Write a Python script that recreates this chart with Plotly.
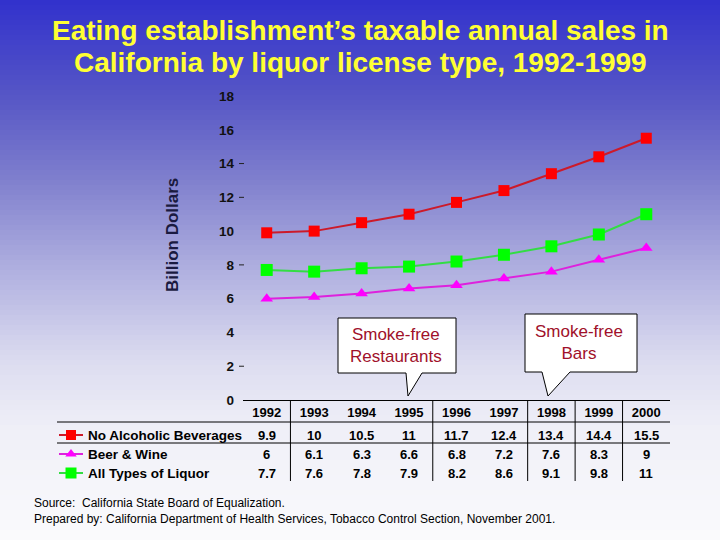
import numpy as np
import plotly.graph_objects as go

years = ["1992", "1993", "1994", "1995", "1996", "1997", "1998", "1999", "2000"]
no_alcohol = [9.9, 10, 10.5, 11, 11.7, 12.4, 13.4, 14.4, 15.5]
beer_wine = [6, 6.1, 6.3, 6.6, 6.8, 7.2, 7.6, 8.3, 9]
all_liquor = [7.7, 7.6, 7.8, 7.9, 8.2, 8.6, 9.1, 9.8, 11]

names = ["No Alcoholic Beverages", "Beer & Wine", "All Types of Liquor"]
series = [no_alcohol, beer_wine, all_liquor]
line_cols = ["#cc1a2a", "#dd22dd", "#33dd44"]
mark_cols = ["#ff0000", "#ff00ff", "#00ff00"]
symbols = ["square", "triangle-up", "square"]
sizes = [11, 11, 12]
dash_ticks = [14, 12, 8, 2]  # stray tick dashes seen on the original

W, H = 720, 540
FONT = "Arial, Liberation Sans, sans-serif"

def py(p):  # pixel row -> paper y (margins are zero)
    return 1 - p / H

fig = go.Figure()

# data lines
for name, vals, lc, mc, sym, sz in zip(names, series, line_cols, mark_cols, symbols, sizes):
    fig.add_trace(go.Scatter(x=years, y=vals, mode="lines+markers", name=name,
                             line=dict(color=lc, width=2),
                             marker=dict(color=mc, symbol=sym, size=sz, line=dict(width=0)),
                             showlegend=False))

# legend samples drawn on a pixel overlay axis
row_y = [435, 454, 473]
for i in range(3):
    fig.add_trace(go.Scatter(x=[59, 71, 83], y=[row_y[i]] * 3, mode="lines", xaxis="x2", yaxis="y2",
                             line=dict(color=line_cols[i], width=2), showlegend=False, hoverinfo="skip"))
    fig.add_trace(go.Scatter(x=[71], y=[row_y[i]], mode="markers", xaxis="x2", yaxis="y2",
                             marker=dict(color=mark_cols[i], symbol=symbols[i], size=sizes[i] - 1),
                             showlegend=False, hoverinfo="skip"))

# background gradient
stops_y = [0, 100, 180, 270, 360, 430, 540]
stops_c = [(50, 50, 205), (88, 88, 198), (128, 128, 206), (176, 176, 224),
           (220, 220, 240), (240, 240, 248), (251, 251, 253)]
shapes = []
band = 5
for top in range(0, H, band):
    mid = top + band / 2
    c = [int(np.interp(mid, stops_y, [s[k] for s in stops_c])) for k in range(3)]
    shapes.append(dict(type="rect", xref="paper", yref="paper", x0=0, x1=1,
                       y0=py(top + band), y1=py(top), fillcolor="rgb(%d,%d,%d)" % tuple(c),
                       line=dict(width=0), layer="below"))

# little dashes next to some y labels
for t in dash_ticks:
    shapes.append(dict(type="line", xref="paper", yref="y", x0=239 / W, x1=244 / W, y0=t, y1=t,
                       line=dict(color="#222222", width=1)))

# table rules
for yy in [422, 443]:
    shapes.append(dict(type="line", xref="x2", yref="y2", x0=57, x1=670, y0=yy, y1=yy,
                       line=dict(color="black", width=1)))
for xb in [0.5, 3.5, 5.5, 6.5, 7.5]:
    shapes.append(dict(type="line", xref="x", yref="paper", x0=xb, x1=xb, y0=py(481), y1=py(400),
                       line=dict(color="black", width=1)))

# callouts
shapes.append(dict(type="path", xref="x2", yref="y2",
                   path="M338,318 L456,318 L456,373 L422,373 L408,396 L406,373 L338,373 Z",
                   fillcolor="white", line=dict(color="black", width=1)))
shapes.append(dict(type="path", xref="x2", yref="y2",
                   path="M525,314 L637,314 L637,372 L570,372 L548,396 L542,372 L525,372 Z",
                   fillcolor="white", line=dict(color="black", width=1)))

ann = []
title_font = dict(family=FONT, size=28, color="#ffff33", weight="bold")
ann.append(dict(text="Eating establishment\u2019s taxable annual sales in",
                xref="x2", yref="y2", x=360, y=30, showarrow=False, font=title_font))
ann.append(dict(text="California by liquor license type, 1992-1999",
                xref="x2", yref="y2", x=360, y=62, showarrow=False, font=title_font))
ann.append(dict(text="Billion Dollars", xref="x2", yref="y2", x=172, y=235, textangle=-90,
                showarrow=False, font=dict(family=FONT, size=17, color="#1a1a40", weight="bold")))
ann.append(dict(text="Smoke-free<br>Restaurants", xref="x2", yref="y2", x=396, y=345, showarrow=False,
                font=dict(family=FONT, size=17, color="#a0102a")))
ann.append(dict(text="Smoke-free<br>Bars", xref="x2", yref="y2", x=579, y=342, showarrow=False,
                font=dict(family=FONT, size=17, color="#a0102a")))
for i in range(3):
    ann.append(dict(text=names[i], xref="x2", yref="y2", x=86, y=row_y[i], xanchor="left",
                    showarrow=False, font=dict(family=FONT, size=13.5, color="black", weight="bold")))
    for j, v in enumerate(series[i]):
        ann.append(dict(text="%g" % v, xref="x", yref="paper", x=j, y=py(row_y[i]),
                        xanchor="center", yanchor="middle", showarrow=False,
                        font=dict(family=FONT, size=13, color="black", weight="bold")))
ann.append(dict(text="Source:  California State Board of Equalization.<br>"
                     "Prepared by: California Department of Health Services, Tobacco Control Section, November 2001.",
                xref="x2", yref="y2", x=32, y=511, xanchor="left", align="left", showarrow=False,
                font=dict(family=FONT, size=12, color="black")))

fig.update_layout(
    width=W, height=H, margin=dict(l=0, r=0, t=0, b=0),
    paper_bgcolor="white", plot_bgcolor="rgba(0,0,0,0)",
    shapes=shapes, annotations=ann,
    xaxis=dict(domain=[243 / W, 670 / W], range=[-0.5, 8.5], type="category",
               showgrid=False, zeroline=False, showline=True, linecolor="black", linewidth=1,
               ticks="", automargin=False, fixedrange=True,
               tickfont=dict(family=FONT, size=13, color="black", weight="bold")),
    yaxis=dict(domain=[py(400), py(96)], range=[0, 18], tickvals=list(range(0, 19, 2)),
               showgrid=False, zeroline=False, showline=False, ticks="", automargin=False,
               fixedrange=True, ticklabelstandoff=8,
               tickfont=dict(family=FONT, size=13.5, color="#111111", weight="bold")),
    xaxis2=dict(domain=[0, 1], range=[0, W], anchor="y2", visible=False, fixedrange=True),
    yaxis2=dict(domain=[0, 1], range=[H, 0], anchor="x2", visible=False, fixedrange=True),
)

fig.write_html("out.html", config={"displayModeBar": False},
               post_script="document.body.style.margin='0';")
